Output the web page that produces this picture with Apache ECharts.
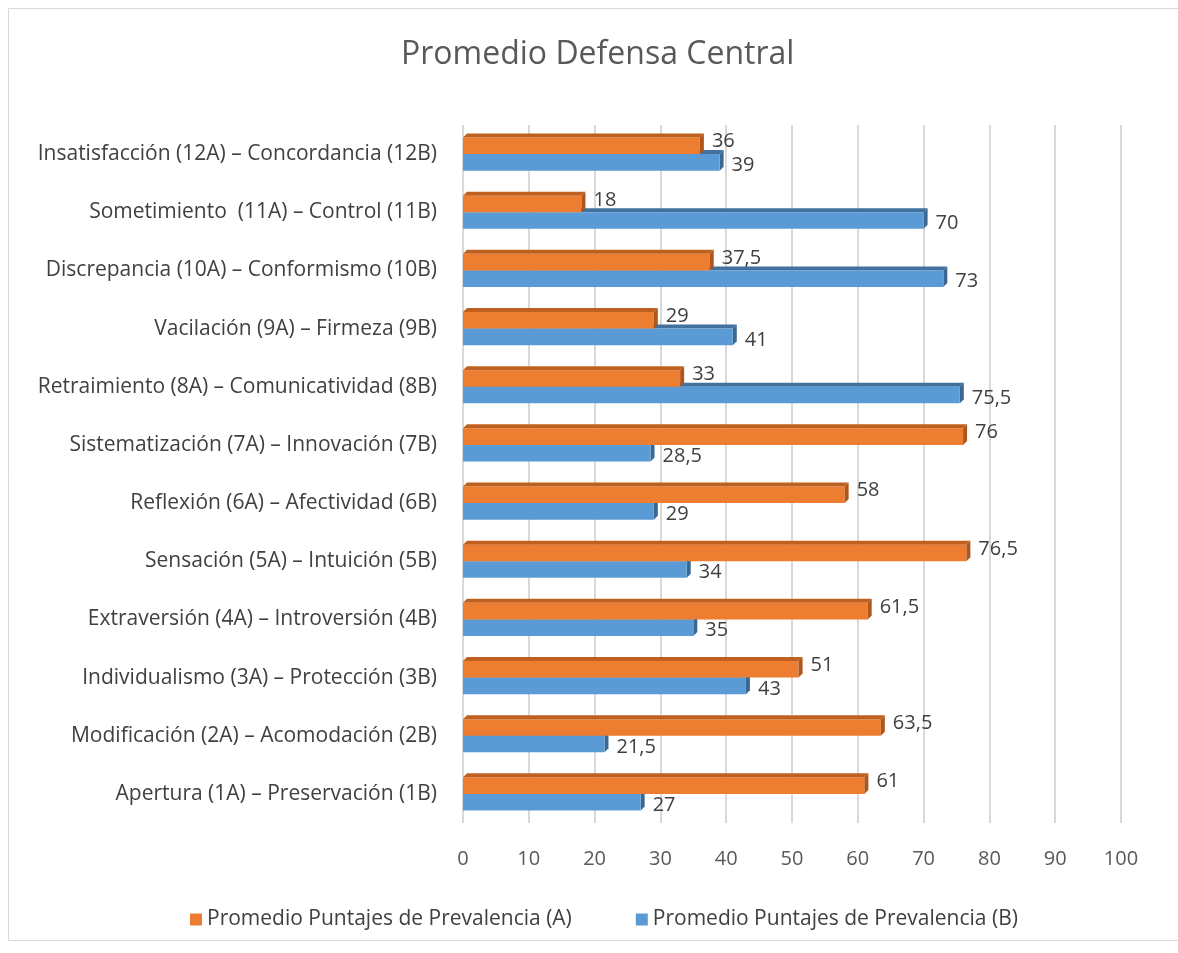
<!DOCTYPE html>
<html>
<head>
<meta charset="utf-8">
<script src="https://cdn.jsdelivr.net/npm/echarts@6/dist/echarts.min.js"></script>
<style>
  html, body { margin: 0; padding: 0; background: #fff; }
  #chart { width: 1178px; height: 953px; }
</style>
</head>
<body>
<div id="chart"></div>
<script>
// categorias, de abajo hacia arriba
var categorias = [
    'Apertura (1A) \u2013 Preservación (1B)',
    'Modificación (2A) \u2013 Acomodación (2B)',
    'Individualismo (3A) \u2013 Protección (3B)',
    'Extraversión (4A) \u2013 Introversión (4B)',
    'Sensación (5A) \u2013 Intuición (5B)',
    'Reflexión (6A) \u2013 Afectividad (6B)',
    'Sistematización (7A) \u2013 Innovación (7B)',
    'Retraimiento (8A) \u2013 Comunicatividad (8B)',
    'Vacilación (9A) \u2013 Firmeza (9B)',
    'Discrepancia (10A) \u2013 Conformismo (10B)',
    'Sometimiento  (11A) \u2013 Control (11B)',
    'Insatisfacción (12A) \u2013 Concordancia (12B)'
];
var serieA = [61, 63.5, 51, 61.5, 76.5, 58, 76, 33, 29, 37.5, 18, 36];
var serieB = [27, 21.5, 43, 35, 34, 29, 28.5, 75.5, 41, 73, 70, 39];
var nombreA = 'Promedio Puntajes de Prevalencia (A)';
var nombreB = 'Promedio Puntajes de Prevalencia (B)';
var ticksX = [0, 10, 20, 30, 40, 50, 60, 70, 80, 90, 100];

var fuente = '"Open Sans", "Noto Sans", sans-serif';
var DEPTH = 4;
var BAR_FRAC = 0.285;

function conComa(v) {
    return String(v).replace('.', ',');
}

// caras 3D (arriba y lado derecho) de cada barra
function caras(posicion, colorTop, colorSide) {
    return function (params, api) {
        var val = api.value(0);
        var cat = api.value(1);
        var p0 = api.coord([0, cat]);
        var p1 = api.coord([val, cat]);
        var band = api.size([0, 1])[1];
        var h = band * BAR_FRAC;
        var yTop = posicion === 'arriba' ? p0[1] - h : p0[1];
        var yBot = yTop + h;
        var x0 = p0[0], x1 = p1[0], d = DEPTH;
        return {
            type: 'group',
            children: [
                {
                    type: 'polygon',
                    shape: {points: [[x0, yTop], [x0 + d, yTop - d], [x1 + d, yTop - d], [x1, yTop]]},
                    style: {fill: colorTop}
                },
                {
                    type: 'polygon',
                    shape: {points: [[x1, yTop], [x1 + d, yTop - d], [x1 + d, yBot - d], [x1, yBot]]},
                    style: {fill: colorSide}
                }
            ]
        };
    };
}

function pares(arr) {
    var out = [];
    for (var i = 0; i < arr.length; i++) {
        out.push([arr[i], i]);
    }
    return out;
}

var dom = document.getElementById('chart');
var myChart = echarts.init(dom);
var option = {
    animation: false,
    textStyle: {fontFamily: fuente},
    title: {
        text: 'Promedio Defensa Central',
        left: 396,
        top: 34,
        textStyle: {fontSize: 32, fontWeight: 'normal', color: '#595959', fontFamily: fuente}
    },
    graphic: [
        {
            type: 'rect',
            shape: {x: 8.5, y: 8.5, width: 1180, height: 932},
            style: {fill: null, stroke: '#d9d9d9', lineWidth: 1},
            silent: true
        }
    ],
    legend: {
        data: [nombreA, nombreB],
        left: 185,
        top: 904,
        itemWidth: 12,
        itemHeight: 12,
        itemGap: 64,
        icon: 'rect',
        textStyle: {fontSize: 21, color: '#404040', fontFamily: fuente}
    },
    grid: {left: 463, right: 57, top: 125, bottom: 130},
    xAxis: {
        type: 'value',
        min: ticksX[0],
        max: ticksX[ticksX.length - 1],
        interval: 10,
        axisLine: {show: false},
        axisTick: {show: false},
        splitLine: {lineStyle: {color: '#d9d9d9', width: 2}},
        axisLabel: {fontSize: 20, color: '#595959', margin: 26, fontFamily: fuente}
    },
    yAxis: {
        type: 'category',
        data: categorias,
        axisLine: {show: false},
        axisTick: {show: false},
        axisLabel: {fontSize: 21, color: '#404040', margin: 26, fontFamily: fuente}
    },
    series: [
        {
            name: '3dB',
            type: 'custom',
            renderItem: caras('abajo', '#41719c', '#3a6894'),
            data: pares(serieB),
            encode: {x: 0, y: 1},
            z: 1,
            silent: true
        },
        {
            name: nombreA,
            type: 'bar',
            data: serieA,
            barGap: '0%',
            barCategoryGap: '43%',
            itemStyle: {color: '#ed7d31'},
            z: 4,
            label: {
                show: true,
                position: 'right',
                distance: 12,
                offset: [0, -4],
                fontSize: 20,
                color: '#404040',
                fontFamily: fuente,
                formatter: function (p) { return conComa(p.value); }
            }
        },
        {
            name: nombreB,
            type: 'bar',
            data: serieB,
            barGap: '0%',
            barCategoryGap: '43%',
            itemStyle: {color: '#5b9bd5'},
            z: 2,
            label: {
                show: true,
                position: 'right',
                distance: 12,
                offset: [0, 3],
                fontSize: 20,
                color: '#404040',
                fontFamily: fuente,
                formatter: function (p) { return conComa(p.value); }
            }
        },
        {
            name: '3dA',
            type: 'custom',
            renderItem: caras('arriba', '#c0601f', '#ae561c'),
            data: pares(serieA),
            encode: {x: 0, y: 1},
            z: 5,
            silent: true
        }
    ]
};
myChart.setOption(option);
</script>
</body>
</html>
